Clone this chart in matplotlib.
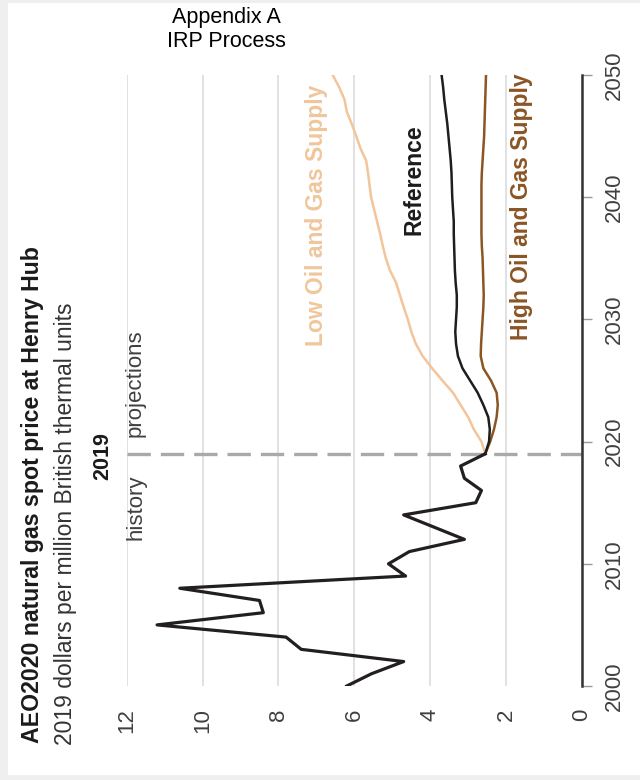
import matplotlib
matplotlib.use("Agg")
import matplotlib.pyplot as plt
from matplotlib.patches import Rectangle

plt.rcParams["font.family"] = ["Liberation Sans", "DejaVu Sans"]

# History (2019 dollars per MMBtu)
hist_years = list(range(2000, 2020))
hist_price = [6.2, 5.55, 4.7, 7.4, 7.8, 11.2, 8.4, 8.5, 10.6, 4.65,
              5.1, 4.55, 3.1, 3.9, 4.7, 2.8, 2.65, 3.1, 3.2, 2.55]

# Projections 2019-2050
proj_years = list(range(2019, 2051))
reference = [2.55, 2.45, 2.43, 2.47, 2.6, 2.75, 2.95, 3.15, 3.27, 3.32,
             3.34, 3.32, 3.3, 3.3, 3.33, 3.35, 3.36, 3.37, 3.38, 3.38,
             3.4, 3.42, 3.43, 3.44, 3.46, 3.49, 3.52, 3.55, 3.59, 3.63,
             3.66, 3.7]
high_supply = [2.55, 2.42, 2.32, 2.25, 2.22, 2.25, 2.4, 2.6, 2.67, 2.66,
               2.64, 2.62, 2.6, 2.59, 2.6, 2.61, 2.62, 2.64, 2.65, 2.65,
               2.65, 2.65, 2.65, 2.64, 2.62, 2.6, 2.58, 2.57, 2.56, 2.55,
               2.54, 2.53]
low_supply = [2.55, 2.65, 2.85, 3.0, 3.2, 3.4, 3.68, 3.95, 4.2, 4.38,
              4.5, 4.59, 4.7, 4.8, 4.9, 5.06, 5.17, 5.25, 5.32, 5.4,
              5.48, 5.56, 5.6, 5.64, 5.69, 5.84, 5.95, 6.07, 6.2, 6.26,
              6.4, 6.57]

price_ticks = [0, 2, 4, 6, 8, 10, 12]
year_ticks = [2000, 2010, 2020, 2030, 2040, 2050]

W, H = 640, 780


def fx(x):
    return x / W


def fy(y):
    return 1 - y / H


fig = plt.figure(figsize=(6.4, 7.8), dpi=100, facecolor="#efefef")
fig.patches.append(Rectangle((fx(8), fy(775)), 1, (775 - 3) / H,
                             transform=fig.transFigure, facecolor="white",
                             edgecolor="none", zorder=-1))

# chart is drawn rotated: price runs right-to-left, years bottom-to-top
ax = fig.add_axes([fx(126.7), fy(686), (582 - 126.7) / W, (686 - 75) / H])
ax.set_facecolor("none")

ax.plot(hist_price, hist_years, color="#231f20", lw=2.3, zorder=4)
ax.plot(low_supply, proj_years, color="#f2c59a", lw=1.8, zorder=3)
ax.plot(high_supply, proj_years, color="#8b5524", lw=1.8, zorder=3)
ax.plot(reference, proj_years, color="#1e1e1e", lw=1.8, zorder=3)

ax.axhline(2019, color="#a9a9a9", lw=2.4, linestyle=(0, (7, 3)), zorder=2)

ax.set_xlim(12, 0)
ax.set_ylim(2000, 2050)

ax.set_xticks(price_ticks)
ax.set_xticklabels([str(t) for t in price_ticks], rotation=90)
ax.tick_params(axis="x", length=0, pad=16, labelsize=16, labelcolor="#404040")
ax.grid(axis="x", color="#dedede", lw=1.3)
ax.set_axisbelow(True)

ax.yaxis.tick_right()
ax.set_yticks(year_ticks)
ax.set_yticklabels([str(t) for t in year_ticks], rotation=90, va="center")
ax.tick_params(axis="y", length=7, width=1, color="#999999", pad=9,
               labelsize=16, labelcolor="#404040")

for side in ["top", "left", "bottom"]:
    ax.spines[side].set_visible(False)
ax.spines["right"].set_color("#333333")
ax.spines["right"].set_linewidth(1.8)

rot = dict(rotation=90, rotation_mode="anchor", ha="left", va="baseline")

fig.text(fx(39), fy(743), "AEO2020 natural gas spot price at Henry Hub",
         fontsize=16.7, fontweight="bold", color="#1b1b1b", **rot)
fig.text(fx(72), fy(745), "2019 dollars per million British thermal units",
         fontsize=16.5, color="#333333", **rot)

fig.text(fx(108), fy(456), "2019", fontsize=15.5, fontweight="bold",
         color="#1b1b1b", rotation=90, rotation_mode="anchor",
         ha="center", va="baseline")
fig.text(fx(141), fy(540), "history", fontsize=16, color="#404040", **rot)
fig.text(fx(141), fy(437), "projections", fontsize=16, color="#404040", **rot)

fig.text(fx(323), fy(346), "Low Oil and Gas Supply", fontsize=16.5,
         fontweight="bold", color="#f0c69c", **rot)
fig.text(fx(421), fy(235), "Reference", fontsize=16.5, fontweight="bold",
         color="#1b1b1b", **rot)
fig.text(fx(528), fy(340), "High Oil and Gas Supply", fontsize=16.5,
         fontweight="bold", color="#8b5524", **rot)

fig.text(fx(226), fy(23), "Appendix A", fontsize=15.5, color="black",
         ha="center", va="baseline")
fig.text(fx(226), fy(47), "IRP Process", fontsize=15.5, color="black",
         ha="center", va="baseline")

fig.savefig("out.png", dpi=100, facecolor=fig.get_facecolor())
